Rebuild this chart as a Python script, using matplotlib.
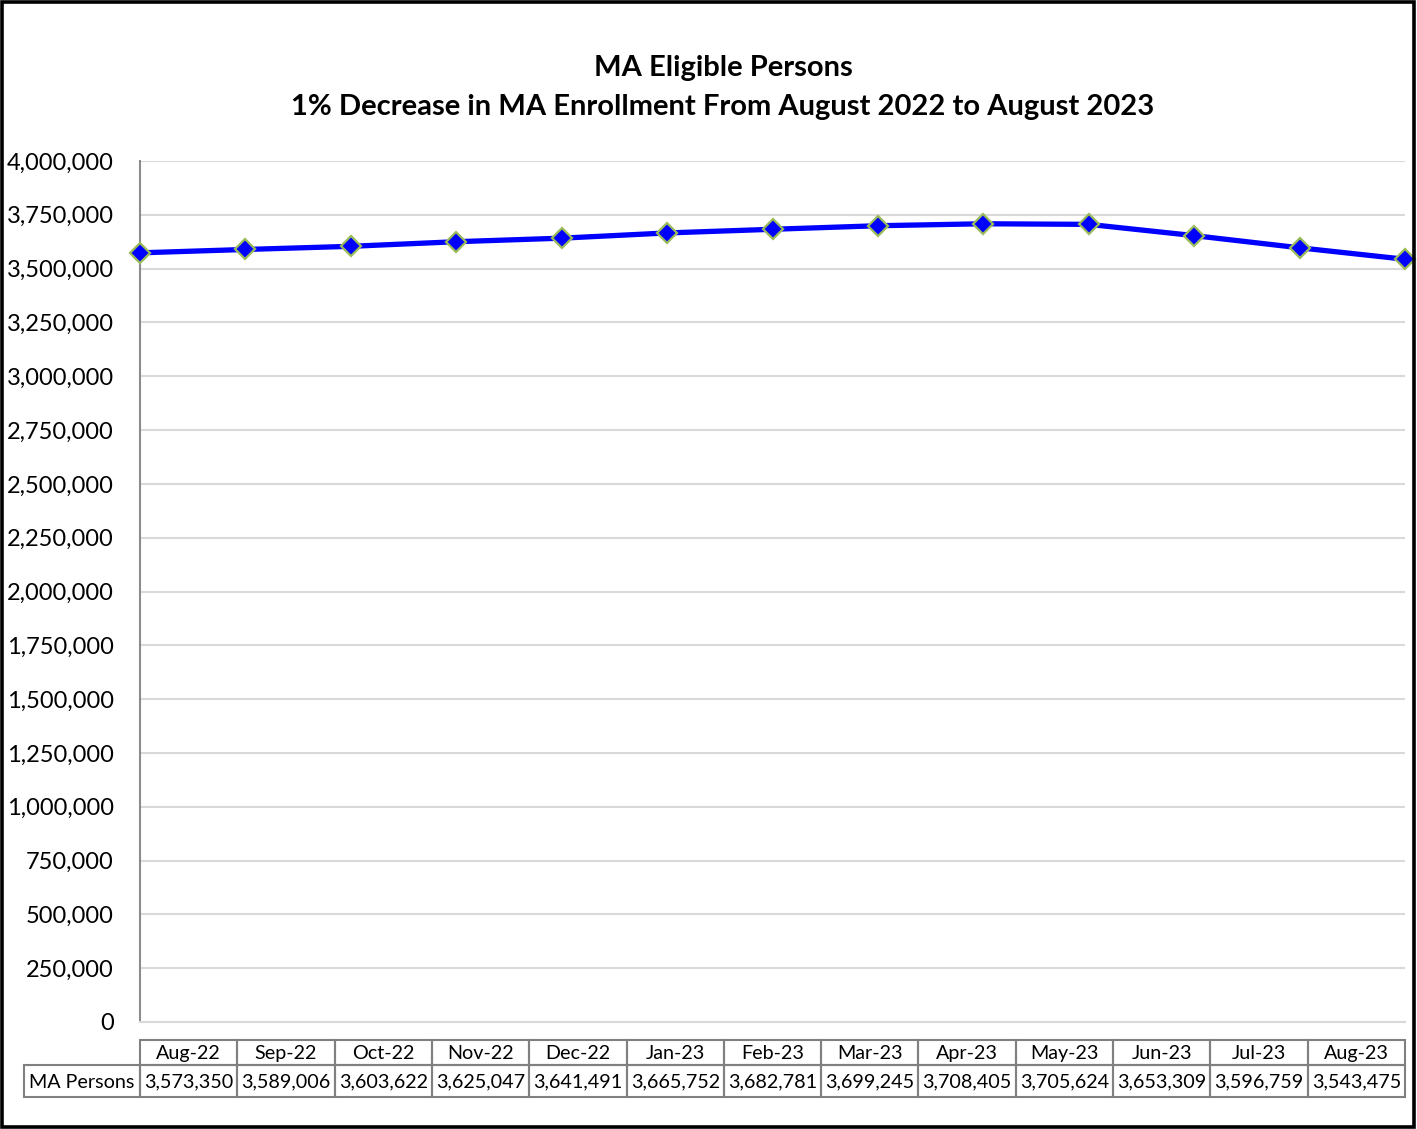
import matplotlib
matplotlib.use("Agg")
import matplotlib.pyplot as plt
from matplotlib.patches import Rectangle
from matplotlib.ticker import FuncFormatter, MultipleLocator

months = ["Aug-22", "Sep-22", "Oct-22", "Nov-22", "Dec-22", "Jan-23", "Feb-23",
          "Mar-23", "Apr-23", "May-23", "Jun-23", "Jul-23", "Aug-23"]
ma_persons = [3573350, 3589006, 3603622, 3625047, 3641491, 3665752, 3682781,
              3699245, 3708405, 3705624, 3653309, 3596759, 3543475]
series_name = "MA Persons"
title_lines = ["MA Eligible Persons",
               "1% Decrease in MA Enrollment From August 2022 to August 2023"]

W, H = 1417, 1129
plt.rcParams['font.family'] = ['Lato', 'DejaVu Sans']

fig = plt.figure(figsize=(W / 100, H / 100), dpi=100)
fig.patch.set_facecolor("white")

def fx(px):
    return px / W

def fy(py):
    return 1 - py / H

# main axes
left, right, top, bottom = 140, 1405, 161, 1022
ax = fig.add_axes([fx(left), fy(bottom), fx(right - left), (bottom - top) / H])
x = list(range(len(months)))
ax.plot(x, ma_persons, color="#0000FF", lw=3.8, marker="D", ms=10.5,
        mfc="#0000FF", mec="#9BBB59", mew=1.6, zorder=3, clip_on=False)
ax.set_xlim(0, len(months) - 1)
ax.set_ylim(0, 4000000)
ax.yaxis.set_major_locator(MultipleLocator(250000))
ax.yaxis.set_major_formatter(FuncFormatter(lambda v, p: f"{int(v):,}"))
ax.grid(axis="y", color="#D9D9D9", lw=1.5)
ax.set_axisbelow(True)
ax.set_xticks([])
for s in ["top", "right"]:
    ax.spines[s].set_visible(False)
ax.spines["bottom"].set_color("#D9D9D9")
ax.spines["bottom"].set_linewidth(1.5)
ax.spines["left"].set_color("#8C8C8C")
ax.spines["left"].set_linewidth(1.5)
ax.tick_params(axis="y", length=0, pad=19, labelsize=17, labelcolor="black")

# title
fig.text(fx(723), fy(68), title_lines[0], ha="center", va="center",
         fontsize=21, fontweight="bold")
fig.text(fx(723), fy(107), title_lines[1], ha="center", va="center",
         fontsize=21, fontweight="bold")

# data table
t_left, t_lab, t_right, t_top, t_mid, t_bot = 24, 140, 1405, 1040, 1065, 1097
tax = fig.add_axes([fx(t_left), fy(t_bot), fx(t_right - t_left), (t_bot - t_top) / H])
tax.set_xlim(t_left, t_right)
tax.set_ylim(t_bot, t_top)
tax.axis("off")
n = len(months)
cw = (t_right - t_lab) / n
ec = "#808080"
lw = 1.5
for i, m in enumerate(months):
    x0 = t_lab + i * cw
    tax.add_patch(Rectangle((x0, t_top), cw, t_mid - t_top, fill=False,
                            ec=ec, lw=lw, clip_on=False))
    tax.text(x0 + cw / 2, (t_top + t_mid) / 2 + 1, m, ha="center", va="center",
             fontsize=14.2)
    tax.add_patch(Rectangle((x0, t_mid), cw, t_bot - t_mid, fill=False,
                            ec=ec, lw=lw, clip_on=False))
    tax.text(x0 + cw / 2, (t_mid + t_bot) / 2 + 1, f"{ma_persons[i]:,}",
             ha="center", va="center", fontsize=14.2)
tax.add_patch(Rectangle((t_left, t_mid), t_lab - t_left, t_bot - t_mid,
                        fill=False, ec=ec, lw=lw, clip_on=False))
tax.text((t_left + t_lab) / 2, (t_mid + t_bot) / 2 + 1, series_name,
         ha="center", va="center", fontsize=14.2)

# outer border
fig.add_artist(Rectangle((fx(2), fy(1127)), fx(1412), (1125) / H, fill=False,
                         ec="black", lw=2.6, transform=fig.transFigure))

fig.savefig("out.png", dpi=100)
